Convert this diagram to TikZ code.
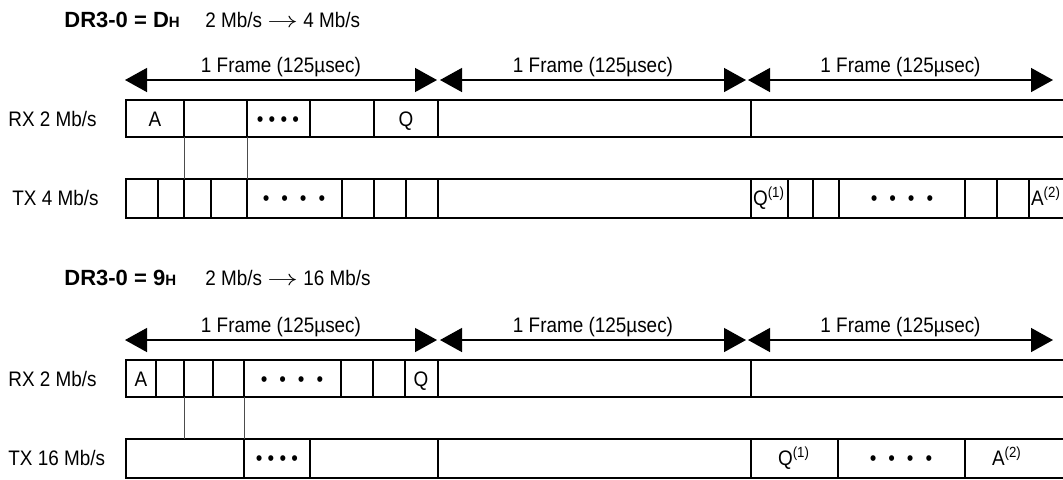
\documentclass[tikz,border=0pt]{standalone}
\usepackage{fontspec}
\setmainfont{Liberation Sans}[FakeStretch=0.9]
\newfontfamily\headfont{Liberation Sans}
\usetikzlibrary{arrows.meta}
\newcommand{\tightdots}{\textbullet\ \textbullet\ \textbullet\ \textbullet}
\newcommand{\widedots}{\textbullet\hspace{6pt}\textbullet\hspace{6pt}\textbullet\hspace{6pt}\textbullet}
\newcommand{\ratearrow}{\scalebox{1.4}[1]{$\rightarrow$}}
\tikzset{
	slotline/.style={line width=0.8pt},
	tieline/.style={line width=0.35pt, color=black!70},
	framespan/.style={line width=0.7pt, {Triangle[length=11pt,width=12pt]}-{Triangle[length=11pt,width=12pt]}},
	celltext/.style={anchor=base},
	modetext/.style={anchor=base west, font=\headfont\bfseries\fontsize{11}{13}\selectfont}
}
\begin{document}
\begin{tikzpicture}[x=0.5pt,y=-0.5pt, every node/.style={inner sep=0pt}, font=\fontsize{10.5}{12.6}\selectfont]
		\useasboundingbox (0,0) rectangle (1063,479);
		
		\foreach \dy/\k in {0/1,260/2} {
			\begin{scope}[shift={(0,\dy)}]
				\foreach \xa/\xb [count=\i] in {125/437,440/746,748/1053} {
					\draw[framespan] (\xa,80) -- (\xb,80);
					\node[celltext] (frame\k\i) at ({(\xa+\xb)/2},72) {1 Frame (125µsec)};
				}
				\draw[slotline] (1063,100) -- (126,100) -- (126,137) -- (1063,137);
				\draw[slotline] (1063,179) -- (126,179) -- (126,218) -- (1063,218);
				\node[anchor=base west] (rx\k) at (8,126) {RX 2 Mb/s};
			\end{scope}
		}
		
		\node[modetext] (mode1) at (64,27) {DR3-0 = D{\fontsize{7.5}{9}\selectfont H}};
		\node[anchor=base west] (rate1) at (205,27) {2 Mb/s \ratearrow{} 4 Mb/s};
		\node[anchor=base west] (tx1) at (12,205) {TX 4 Mb/s};
		\foreach \x in {184,247,310,374,438,751}
			\draw[slotline] (\x,100) -- (\x,137);
		\foreach \x in {158,184,211,247,342,374,406,438,751,788,813,839,965,997,1029}
			\draw[slotline] (\x,179) -- (\x,218);
		\draw[tieline] (184,137) -- (184,179);
		\draw[tieline] (247,137) -- (247,179);
		\node[celltext] (rxa1) at (155,126) {A};
		\node[celltext] (rxd1) at (278,126) {\tightdots};
		\node[celltext] (rxq1) at (406,126) {Q};
		\node[celltext] (txd1) at (294,205) {\widedots};
		\node[celltext] (txq1) at (769,205) {Q\textsuperscript{(1)}};
		\node[celltext] (txe1) at (902,205) {\widedots};
		\node[celltext] (txa1) at (1046,205) {A\textsuperscript{(2)}};
		
		\node[modetext] (mode2) at (64,285) {DR3-0 = 9{\fontsize{7.5}{9}\selectfont H}};
		\node[anchor=base west] (rate2) at (205,285) {2 Mb/s \ratearrow{} 16 Mb/s};
		\node[anchor=base west] (tx2) at (8,465) {TX 16 Mb/s};
		\foreach \x in {156,184,213,244,341,373,405,438,751}
			\draw[slotline] (\x,360) -- (\x,397);
		\foreach \x in {244,310,438,751,838,965}
			\draw[slotline] (\x,439) -- (\x,478);
		\draw[tieline] (184,397) -- (184,439);
		\draw[tieline] (244,397) -- (244,439);
		\node[celltext] (rxa2) at (141,386) {A};
		\node[celltext] (rxd2) at (292,386) {\widedots};
		\node[celltext] (rxq2) at (421,386) {Q};
		\node[celltext] (txd2) at (277,465) {\tightdots};
		\node[celltext] (txq2) at (794,465) {Q\textsuperscript{(1)}};
		\node[celltext] (txe2) at (901,465) {\widedots};
		\node[celltext] (txa2) at (1007,465) {A\textsuperscript{(2)}};
\end{tikzpicture}
\end{document}
